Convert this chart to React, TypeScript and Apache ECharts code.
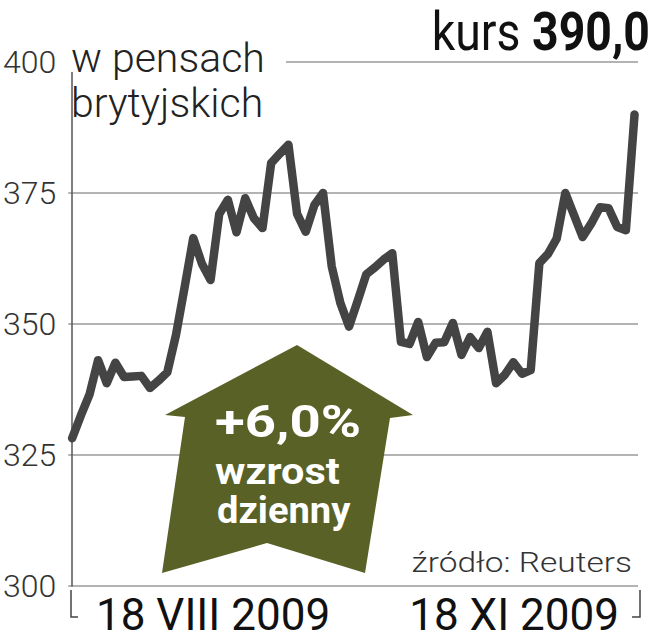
import React, { useEffect, useRef } from "react";
import * as echarts from "echarts";

// Kurs akcji (pensy), notowania dzienne 18 VIII 2009 - 18 XI 2009
const prices: number[] = [
  328.2, 332.5, 336.5, 343.1, 338.7, 342.6, 339.9, 340.0, 340.1, 337.8,
  339.2, 340.8, 347.9, 357.0, 366.4, 361.5, 358.4, 371.0, 373.7, 367.5,
  374.0, 370.2, 368.3, 380.7, 382.5, 384.2, 371.0, 367.6, 372.7, 375.0,
  361.0, 354.0, 349.5, 354.4, 359.5, 360.8, 362.3, 363.5, 346.6, 346.2,
  350.4, 343.7, 346.4, 346.5, 350.2, 344.1, 347.5, 345.4, 348.5, 338.7,
  340.3, 342.7, 340.5, 341.2, 361.6, 363.4, 366.3, 375.0, 370.8, 366.6,
  369.2, 372.3, 372.1, 368.5, 367.9, 390.0,
];

const yTicks: number[] = [300, 325, 350, 375, 400];
const periodLabels: string[] = ["18 VIII 2009", "18 XI 2009"];
const unitLabel: string[] = ["w pensach", "brytyjskich"];
const lastPrice = "390,0";
const changeLabel: string[] = ["+6,0%", "wzrost", "dzienny"];
const sourceLabel = "źródło: Reuters";

export default function App() {
  const ref = useRef<HTMLDivElement>(null);

  useEffect(() => {
    if (!ref.current) return;
    const chart = echarts.init(ref.current, null, { renderer: "svg" });
    const seriesData = prices.map((v, i) => [i, v]);
    const font = "Roboto, 'Noto Sans', sans-serif";

    const txt = (
      text: string,
      x: number,
      y: number,
      f: string,
      fill: string,
      align: string,
      scaleX = 1,
      z = 4
    ) => ({
      type: "text",
      z,
      x,
      y,
      scaleX,
      style: {
        text,
        font: f,
        fill,
        textAlign: align,
        textVerticalAlign: "middle",
      },
    });

    chart.setOption({
      animation: false,
      backgroundColor: "#ffffff",
      grid: { left: 67, right: 16, top: 62, bottom: 54 },
      xAxis: {
        type: "value",
        min: -0.45,
        max: prices.length - 1 + 0.4,
        show: false,
      },
      yAxis: {
        type: "value",
        min: yTicks[0],
        max: yTicks[yTicks.length - 1],
        interval: yTicks[1] - yTicks[0],
        axisLine: { show: true, lineStyle: { color: "#555", width: 1.5 } },
        axisTick: { show: false },
        axisLabel: {
          margin: 12,
          color: "#333",
          fontFamily: font,
          fontWeight: 300,
          fontSize: 32,
        },
        splitLine: {
          show: true,
          showMinLine: true,
          showMaxLine: true,
          lineStyle: { color: "#9a9a9a", width: 1.5 },
        },
      },
      series: [
        {
          type: "line",
          data: seriesData,
          symbol: "none",
          z: 5,
          lineStyle: {
            color: "#444444",
            width: 8.5,
            cap: "round",
            join: "round",
          },
        },
      ],
      graphic: [
        // white box behind title
        {
          type: "rect",
          z: 20,
          shape: { x: 55, y: 30, width: 231, height: 42 },
          style: { fill: "#ffffff" },
        },
        txt(unitLabel[0], 71, 58, `300 41px ${font}`, "#222", "left", 1, 21),
        txt(unitLabel[1], 71, 103, `300 41px ${font}`, "#222", "left", 1, 21),
        // kurs
        {
          type: "text",
          z: 21,
          x: 650,
          y: 31,
          scaleX: 0.86,
          style: {
            text: "{a|kurs }{b|" + lastPrice + "}",
            textAlign: "right",
            textVerticalAlign: "middle",
            rich: {
              a: { font: `400 54px ${font}`, fill: "#111", lineHeight: 50 },
              b: { font: `700 54px ${font}`, fill: "#111", lineHeight: 50 },
            },
          },
        },
        // arrow
        {
          type: "polygon",
          z: 3,
          shape: {
            points: [
              [297, 345],
              [413, 415],
              [390, 418],
              [365, 573],
              [267, 543],
              [162, 573],
              [185, 417],
              [165, 415],
            ],
          },
          style: { fill: "#5a6126" },
        },
        txt(changeLabel[0], 215, 422, `700 44px ${font}`, "#ffffff", "left", 1.24),
        txt(changeLabel[1], 215, 472, `700 37px ${font}`, "#ffffff", "left", 1.12),
        txt(changeLabel[2], 217, 510, `700 37px ${font}`, "#ffffff", "left", 1.03),
        // source
        txt(sourceLabel, 632, 563, `300 27px ${font}`, "#333", "right", 1.24),
        // period labels
        txt(periodLabels[0], 96, 615, `400 44px ${font}`, "#111", "left"),
        txt(periodLabels[1], 619, 615, `400 44px ${font}`, "#111", "right"),
        // brackets
        {
          type: "polyline",
          z: 4,
          shape: { points: [[71, 590], [71, 617], [78, 617]] },
          style: { stroke: "#444", lineWidth: 1.5, fill: "none" },
        },
        {
          type: "polyline",
          z: 4,
          shape: { points: [[640, 590], [640, 617], [632, 617]] },
          style: { stroke: "#444", lineWidth: 1.5, fill: "none" },
        },
      ],
    });

    return () => chart.dispose();
  }, []);

  return (
    <div
      ref={ref}
      style={{ position: "fixed", left: 0, top: 0, width: 654, height: 640 }}
    />
  );
}
